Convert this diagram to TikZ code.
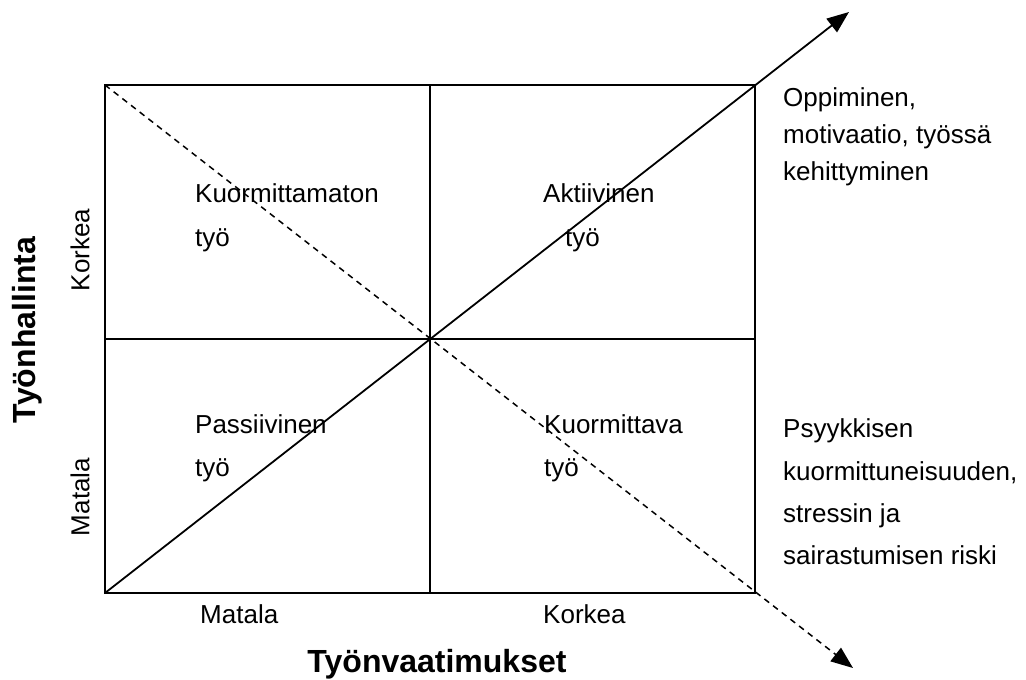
\documentclass[tikz,border=0pt]{standalone}
\usepackage{fontspec}
\setmainfont{Liberation Sans}
\usetikzlibrary{arrows.meta}
\begin{document}
\begin{tikzpicture}[x=1pt,y=-1pt,
  lbl/.style={inner sep=0pt, anchor=base west, font=\fontsize{26}{30}\selectfont},
  axlbl/.style={inner sep=0pt, font=\fontsize{26}{30}\selectfont},
  title/.style={inner sep=0pt, font=\fontsize{32}{36}\selectfont\bfseries},
  grid/.style={line width=1.8pt},
  arr/.style={line width=1.8pt, -{Triangle[length=22pt,width=17pt]}},
  darr/.style={line width=1.5pt, dash pattern=on 6pt off 5pt, -{Triangle[length=22pt,width=17pt]}}]
\useasboundingbox (0,0) rectangle (1026,680);
% frame coordinates
\coordinate (tl) at (105,85);
\coordinate (tr) at (755,85);
\coordinate (bl) at (105,593);
\coordinate (br) at (755,593);
\coordinate (tm) at (430,85);
\coordinate (bm) at (430,593);
\coordinate (ml) at (105,339);
\coordinate (mr) at (755,339);
\coordinate (up) at (849,12);
\coordinate (down) at (853,668);
% grid
\draw[grid] (tl) rectangle (br);
\draw[grid] (tm) -- (bm);
\draw[grid] (ml) -- (mr);
% diagonals
\draw[arr] (bl) -- (up);
\draw[darr] (tl) -- (down);
% quadrant labels
\node[lbl] (q1a) at (195,202) {Kuormittamaton};
\node[lbl] (q1b) at (195,246) {työ};
\node[lbl] (q2a) at (543,202) {Aktiivinen};
\node[lbl] (q2b) at (565,246) {työ};
\node[lbl] (q3a) at (195,433) {Passiivinen};
\node[lbl] (q3b) at (195,476) {työ};
\node[lbl] (q4a) at (544,433) {Kuormittava};
\node[lbl] (q4b) at (544,476) {työ};
% right texts
\node[lbl] (r1) at (783,106) {Oppiminen,};
\node[lbl] (r2) at (783,143) {motivaatio, työssä};
\node[lbl] (r3) at (783,180) {kehittyminen};
\node[lbl] (s1) at (783,437) {Psyykkisen};
\node[lbl] (s2) at (783,480) {kuormittuneisuuden,};
\node[lbl] (s3) at (783,522) {stressin ja};
\node[lbl] (s4) at (783,564) {sairastumisen riski};
% axis labels
\node[lbl] (xlo) at (200,623) {Matala};
\node[lbl] (xhi) at (543,623) {Korkea};
\node[axlbl, rotate=90] (yhi) at (80,250) {Korkea};
\node[axlbl, rotate=90] (ylo) at (80,497) {Matala};
\node[title, anchor=base] (xt) at (437,672) {Työnvaatimukset};
\node[title, rotate=90] (yt) at (27,330) {Työnhallinta};
\end{tikzpicture}
\end{document}
